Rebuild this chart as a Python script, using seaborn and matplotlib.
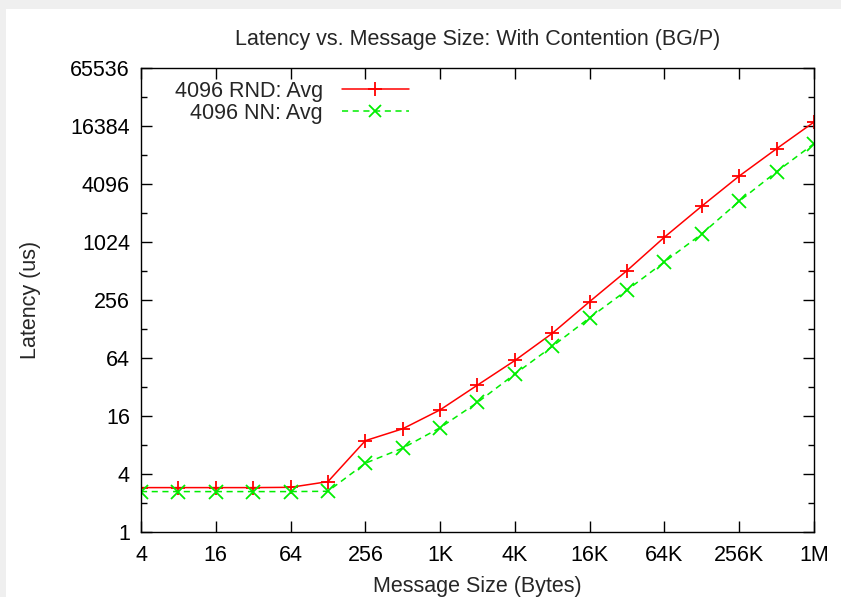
import numpy as np
import pandas as pd
import matplotlib
matplotlib.use("Agg")
import matplotlib.pyplot as plt
from matplotlib.patches import Rectangle
from matplotlib.lines import Line2D
import seaborn as sns

# message sizes (bytes) and average latencies (us)
msg_size = [4, 8, 16, 32, 64, 128, 256, 512, 1024, 2048, 4096, 8192, 16384,
            32768, 65536, 131072, 262144, 524288, 1048576]
rnd_avg = [2.86, 2.86, 2.86, 2.86, 2.88, 3.3, 8.8, 11.7, 18.4, 33.3, 60, 115,
           246, 517, 1150, 2420, 4970, 9560, 18100]
nn_avg = [2.6, 2.6, 2.6, 2.6, 2.6, 2.62, 5.13, 7.36, 12.0, 22.0, 43.4, 84,
          167, 324, 636, 1245, 2720, 5510, 10800]
series_names = ["4096 RND: Avg", "4096 NN: Avg"]

xtick_vals = [4, 16, 64, 256, 1024, 4096, 16384, 65536, 262144, 1048576]
xtick_labels = ["4", "16", "64", "256", "1K", "4K", "16K", "64K", "256K", "1M"]
ytick_vals = [1, 4, 16, 64, 256, 1024, 4096, 16384, 65536]
yminor_vals = [2, 8, 32, 128, 512, 2048, 8192, 32768]

df = pd.DataFrame({
    "size": msg_size * 2,
    "latency": rnd_avg + nn_avg,
    "series": [series_names[0]] * len(msg_size) + [series_names[1]] * len(msg_size),
})

sns.set_style("ticks")
plt.rcParams["font.family"] = ["Liberation Sans", "DejaVu Sans"]
fs = 15.5

fig = plt.figure(figsize=(8.41, 5.97), dpi=100, facecolor="#efefef")
# white page inside the grey screenshot border
fig.patches.append(Rectangle((6 / 841, 0), 1, (597 - 9) / 597,
                             transform=fig.transFigure, facecolor="white",
                             edgecolor="none", zorder=-10))
ax = fig.add_axes([141 / 841, 65.5 / 597, 673 / 841, 463.2 / 597])
ax.set_zorder(1)

colors = {series_names[0]: "#ff0000", series_names[1]: "#00ee00"}
sns.lineplot(data=df, x="size", y="latency", hue="series", style="series",
             palette=colors, markers={series_names[0]: "+", series_names[1]: "x"},
             dashes={series_names[0]: "", series_names[1]: (4, 3)},
             markersize=10, linewidth=1.1, ax=ax, legend=False)
# seaborn paints marker edges white; + and x only have edges
for ln in ax.lines:
    ln.set_markeredgecolor(ln.get_color())
    ln.set_markeredgewidth(1.3)

ax.set_xscale("log", base=2)
ax.set_yscale("log", base=2)
ax.set_xlim(4, 1048576)
ax.set_ylim(1, 65536)
ax.set_xticks(xtick_vals)
ax.set_xticklabels(xtick_labels)
ax.xaxis.set_minor_locator(matplotlib.ticker.NullLocator())
ax.set_yticks(ytick_vals)
ax.set_yticklabels([str(v) for v in ytick_vals])
ax.set_yticks(yminor_vals, minor=True)
ax.yaxis.set_minor_formatter(matplotlib.ticker.NullFormatter())

for s in ax.spines.values():
    s.set_visible(True)
    s.set_linewidth(1.0)
    s.set_color("black")
ax.tick_params(which="both", direction="in", top=True, right=True,
               labelsize=fs, pad=8, colors="black")
ax.tick_params(which="major", length=8, width=1)
ax.tick_params(which="minor", length=4, width=1)
ax.tick_params(axis="x", pad=10)

ax.set_title("Latency vs. Message Size: With Contention (BG/P)", fontsize=fs, pad=17)
ax.set_xlabel("Message Size (Bytes)", fontsize=fs, labelpad=7)
ax.set_ylabel("Latency (us)", fontsize=fs, labelpad=21)

handles = [
    Line2D([], [], color="#ff0000", linestyle="-", marker="+", markersize=10,
           markeredgewidth=1.3, linewidth=1.1),
    Line2D([], [], color="#00ee00", linestyle=(0, (4, 3)), marker="x", markersize=8,
           markeredgewidth=1.3, linewidth=1.1),
]
ax.legend(handles, series_names, loc="upper left", markerfirst=False, frameon=False,
          fontsize=fs, handlelength=3.1, handletextpad=0.9, labelspacing=0.05,
          borderaxespad=0.0, bbox_to_anchor=(0.037, 0.992))

fig.savefig("out.png", dpi=100, facecolor=fig.get_facecolor())
